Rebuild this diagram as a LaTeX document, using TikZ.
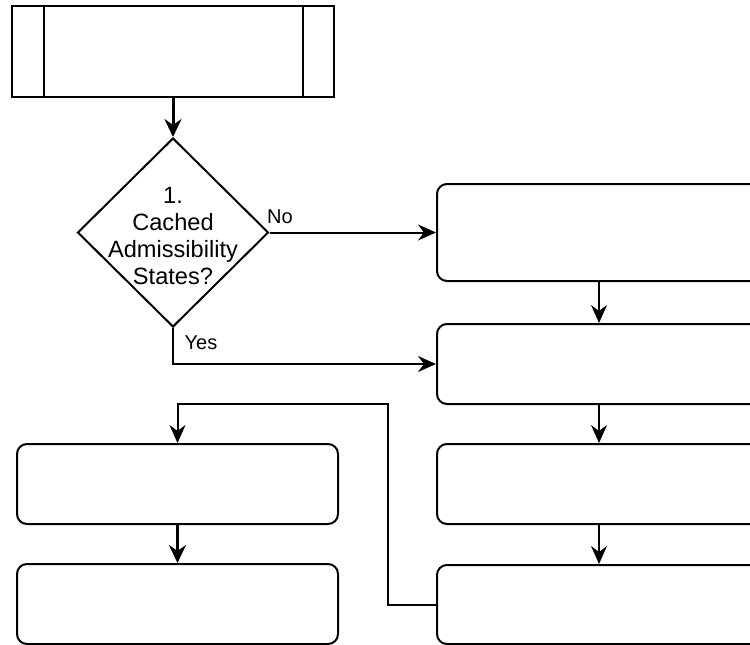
\documentclass[tikz,border=0pt]{standalone}
\usepackage{fontspec}
\setmainfont{Liberation Sans}
\usetikzlibrary{shapes.geometric,arrows.meta}
\begin{document}
\begin{tikzpicture}[x=1pt,y=-1pt,
  box/.style={draw, rounded corners=10pt, line width=2pt, inner sep=0pt, minimum height=80pt},
  arr/.style={-{Stealth[length=18pt,width=16pt,inset=6pt]}, line width=2pt},
  thickarr/.style={-{Stealth[length=18pt,width=17pt,inset=6pt]}, line width=3pt},
  lbl/.style={font=\fontsize{20}{24}\selectfont, inner sep=0pt},
  dectxt/.style={align=center, font=\fontsize{23.6}{27.3}\selectfont, inner sep=0pt}
]
\useasboundingbox (0,0) rectangle (750,645);
\clip (0,0) rectangle (750,645);

% predefined process
\node (top) [draw, rectangle, line width=2.2pt, inner sep=0pt, minimum width=322pt, minimum height=91pt] at (173,51.5) {};
\draw[line width=2.2pt] ([xshift=33pt]top.north west) -- ([xshift=33pt]top.south west);
\draw[line width=2.2pt] ([xshift=-32pt]top.north east) -- ([xshift=-32pt]top.south east);

% decision
\node (dec) [draw, diamond, line width=2pt, inner sep=0pt, minimum width=191pt, minimum height=189pt] at (173,232.5) {};
\node (dect) [dectxt] at (173,236) {1.\\Cached\\Admissibility\\States?};

% right column
\node (r1) [box, minimum width=324pt, minimum height=97pt] at (599,232.5) {};
\node (r2) [box, minimum width=324pt] at (599,364) {};
\node (r3) [box, minimum width=324pt] at (599,484) {};
\node (r4) [box, minimum width=324pt, minimum height=79pt] at (599,604.5) {};

% left column
\node (l1) [box, minimum width=321pt] at (177.5,484) {};
\node (l2) [box, minimum width=321pt] at (177.5,604) {};

% connectors
\draw[thickarr] (top.south) -- (dec.north);
\draw[arr] (dec.east) -- (r1.west);
\node (no) [lbl] at (280,217) {No};
\draw[arr] (dec.south) |- (r2.west);
\node (yes) [lbl] at (201,343) {Yes};
\draw[arr] (r1.south) -- (r2.north);
\draw[arr] (r2.south) -- (r3.north);
\draw[arr] (r3.south) -- (r4.north);
\coordinate (fb) at (388,404);
\draw[arr] (r4.west) -| (fb) -| (l1.north);
\draw[thickarr] (l1.south) -- (l2.north);
\end{tikzpicture}
\end{document}
